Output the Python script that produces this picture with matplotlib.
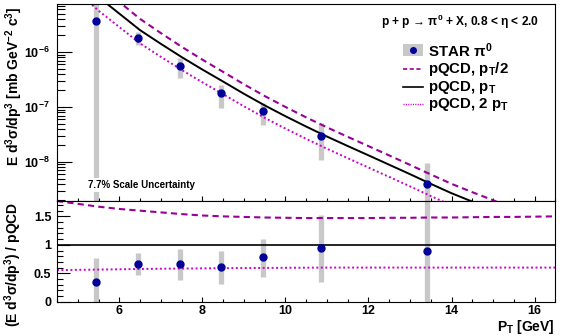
import numpy as np
import matplotlib
matplotlib.use("Agg")
from matplotlib import pyplot as plt
from matplotlib.ticker import MultipleLocator, FixedLocator, FormatStrFormatter, LogLocator, NullFormatter, LogFormatterSciNotation

# STAR pi0 points
pt = [5.45, 6.45, 7.45, 8.45, 9.45, 10.85, 13.4]
xsec = [3.7e-6, 1.8e-6, 5.6e-7, 1.78e-7, 8.5e-8, 3.0e-8, 3.9e-9]
xsec_lo = [1e-9, 1.34e-6, 3.4e-7, 9.6e-8, 4.7e-8, 1.1e-8, 1e-9]
xsec_hi = [1e-5, 2.3e-6, 7.8e-7, 2.5e-7, 1.2e-7, 5.1e-8, 9.5e-9]

# ratio data / pQCD
ratio = [0.35, 0.66, 0.66, 0.61, 0.78, 0.94, 0.895]
ratio_lo = [0.0, 0.47, 0.39, 0.32, 0.43, 0.34, 0.0]
ratio_hi = [0.76, 0.85, 0.93, 0.89, 1.11, 1.53, 2.0]

# pQCD curves
pt_nlo = [4.5, 5.0, 5.5, 6.0, 6.5, 7.0, 7.5, 8.0, 8.5, 9.0, 9.5, 10.0, 10.5,
          11.0, 11.5, 12.0, 12.5, 13.0, 13.5, 14.0, 14.5, 15.0, 15.5, 16.0, 16.5]
nlo_mu = [5.0e-5, 2.19e-5, 1.0e-5, 5.0e-6, 2.5e-6, 1.41e-6, 8.1e-7, 4.8e-7, 2.9e-7,
          1.74e-7, 1.07e-7, 6.8e-8, 4.4e-8, 2.9e-8, 1.95e-8, 1.32e-8, 8.9e-9, 6.0e-9,
          4.0e-9, 2.7e-9, 1.9e-9, 1.35e-9, 9.5e-10, 6.9e-10, 5.0e-10]
# ratio of scale variations to pQCD, p_T
ratio_half = [1.77, 1.72, 1.67, 1.63, 1.60, 1.57, 1.54, 1.515, 1.50, 1.49, 1.48, 1.475, 1.47,
              1.47, 1.47, 1.47, 1.475, 1.475, 1.48, 1.48, 1.485, 1.49, 1.49, 1.495, 1.50]
ratio_double = [0.555, 0.56, 0.565, 0.57, 0.575, 0.58, 0.583, 0.586, 0.589, 0.592, 0.594,
                0.596, 0.598, 0.60, 0.60, 0.60, 0.60, 0.60, 0.60, 0.60, 0.60, 0.60, 0.60,
                0.60, 0.60]
decades = [1e-8, 1e-7, 1e-6]

nlo_half = np.array(nlo_mu) * np.array(ratio_half)
nlo_double = np.array(nlo_mu) * np.array(ratio_double)

blue = "#000099"
grey = "#c8c8c8"
c_half = "#990099"
c_double = "#cc00cc"

plt.rcParams["font.family"] = ["Liberation Sans", "DejaVu Sans"]
plt.rcParams["font.weight"] = "bold"
plt.rcParams["mathtext.fontset"] = "custom"
plt.rcParams["mathtext.rm"] = "Liberation Sans:bold"
plt.rcParams["mathtext.bf"] = "Liberation Sans:bold"
plt.rcParams["mathtext.it"] = "Liberation Sans:bold"
plt.rcParams["axes.linewidth"] = 0.8

fig = plt.figure(figsize=(5.67, 3.36), dpi=100)
ax1 = fig.add_axes([0.1005, 0.4018, 0.879, 0.5862])
ax2 = fig.add_axes([0.1005, 0.102, 0.879, 0.2998])

# upper panel
ax1.vlines(pt, xsec_lo, xsec_hi, color=grey, lw=3.8, zorder=1)
ax1.plot(pt_nlo, nlo_half, color=c_half, lw=1.5, dashes=(3, 2), zorder=2)
ax1.plot(pt_nlo, nlo_mu, color="black", lw=1.4, zorder=2)
ax1.plot(pt_nlo, nlo_double, color=c_double, lw=1.4, dashes=(1, 1.3), zorder=2)
ax1.plot(pt, xsec, "o", color=blue, ms=5, zorder=3)
ax1.set_yscale("log")
ax1.set_xlim(4.5, 16.5)
ax1.set_ylim(1.95e-9, 7.46e-6)
ax1.xaxis.set_major_locator(MultipleLocator(2))
ax1.xaxis.set_minor_locator(MultipleLocator(0.5))
ax1.xaxis.set_major_formatter(NullFormatter())
ax1.yaxis.set_major_locator(FixedLocator(decades))
ax1.yaxis.set_major_formatter(LogFormatterSciNotation())
ax1.yaxis.set_minor_locator(LogLocator(base=10, subs=np.arange(2, 10)))
ax1.yaxis.set_minor_formatter(NullFormatter())
ax1.tick_params(axis="both", which="both", direction="in", top=False, right=False,
                labelsize=9, width=0.8)
ax1.tick_params(axis="y", which="major", length=11, pad=5)
ax1.tick_params(axis="y", which="minor", length=5.5)
ax1.tick_params(axis="x", which="major", length=3.8)
ax1.tick_params(axis="x", which="minor", length=2.3)

ax1.text(0.808, 0.909, "p + p \u2192 $\\pi^0$ + X, 0.8 < $\\eta$ < 2.0",
         transform=ax1.transAxes, ha="center", va="center", fontsize=8.6)
ax1.text(0.1685, 0.081, "7.7% Scale Uncertainty", transform=ax1.transAxes,
         ha="center", va="center", fontsize=7,
         bbox=dict(facecolor="white", edgecolor="none", pad=1.5), zorder=4)

# legend drawn by hand, ROOT style
leg_x0, leg_x1, leg_tx = 0.694, 0.734, 0.745
rows = [0.765, 0.67, 0.578, 0.49]
ax1.add_patch(plt.Rectangle((leg_x0, rows[0] - 0.03), leg_x1 - leg_x0, 0.06,
                            transform=ax1.transAxes, facecolor=grey, edgecolor="none"))
ax1.plot([(leg_x0 + leg_x1) / 2], [rows[0]], "o", color=blue, ms=4, transform=ax1.transAxes)
ax1.plot([leg_x0, leg_x1], [rows[1]] * 2, color=c_half, lw=1.2, dashes=(2.5, 1.5),
         transform=ax1.transAxes)
ax1.plot([leg_x0, leg_x1], [rows[2]] * 2, color="black", lw=1.2, transform=ax1.transAxes)
ax1.plot([leg_x0, leg_x1], [rows[3]] * 2, color=c_double, lw=1.0, dashes=(0.8, 0.9),
         transform=ax1.transAxes)
leg_labels = [r"STAR $\pi^0$", r"pQCD, p$_T$/2", r"pQCD, p$_T$", r"pQCD, 2 p$_T$"]
for yy, lab in zip(rows, leg_labels):
    ax1.text(leg_tx, yy, lab, transform=ax1.transAxes, ha="left", va="center", fontsize=10.8)

# lower panel
ax2.vlines(pt, ratio_lo, ratio_hi, color=grey, lw=3.8, zorder=1)
ax2.plot(pt_nlo, ratio_half, color=c_half, lw=1.5, dashes=(3, 2), zorder=2)
ax2.axhline(1, color="black", lw=1.2, zorder=2)
ax2.plot(pt_nlo, ratio_double, color=c_double, lw=1.4, dashes=(1, 1.3), zorder=2)
ax2.plot(pt, ratio, "o", color=blue, ms=5, zorder=3)
ax2.set_xlim(4.5, 16.5)
ax2.set_ylim(0, 1.77)
ax2.xaxis.set_major_locator(MultipleLocator(2))
ax2.xaxis.set_minor_locator(MultipleLocator(0.5))
ax2.yaxis.set_major_locator(FixedLocator([0, 0.5, 1, 1.5]))
ax2.yaxis.set_minor_locator(MultipleLocator(0.1))
ax2.yaxis.set_major_formatter(FormatStrFormatter("%g"))
ax2.tick_params(axis="both", which="both", direction="in", top=False, right=False,
                labelsize=9, width=0.8)
ax2.tick_params(axis="y", which="major", length=9.4, pad=4)
ax2.tick_params(axis="y", which="minor", length=4.3)
ax2.tick_params(axis="x", which="major", length=3.8, pad=2)
ax2.tick_params(axis="x", which="minor", length=2.3)

fig.text(14 / 567, 1 - 86 / 336, r"E d$^3\sigma$/dp$^3$ [mb GeV$^{-2}$ c$^3$]",
         rotation=90, ha="center", va="center", fontsize=10)
fig.text(13 / 567, 1 - 264 / 336, r"(E d$^3\sigma$/dp$^3$) / pQCD",
         rotation=90, ha="center", va="center", fontsize=10)
fig.text(555 / 567, 1 - 327 / 336, r"P$_T$ [GeV]", ha="right", va="center", fontsize=10)

fig.savefig("out.png", dpi=100)
